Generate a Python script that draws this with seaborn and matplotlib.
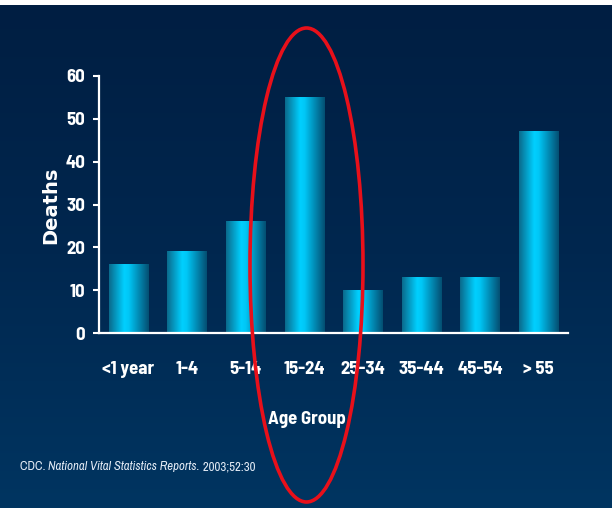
import numpy as np
import pandas as pd
import matplotlib
matplotlib.use('Agg')
import matplotlib.pyplot as plt
import seaborn as sns
from matplotlib.patches import Ellipse, Rectangle
from matplotlib.colors import LinearSegmentedColormap

# dados
age_groups = ['<1 year', '1-4', '5-14', '15-24', '25-34', '35-44', '45-54', '> 55']
deaths = [16, 19, 26, 55, 10, 13, 13, 47]
y_ticks = [0, 10, 20, 30, 40, 50, 60]
citation = ['CDC. ', 'National Vital Statistics Reports.', ' 2003;52:30']

df = pd.DataFrame({'grupo': age_groups, 'mortes': deaths})

sns.set_style('white')
narrow_bold = ['Barlow Semi Condensed', 'Liberation Sans', 'DejaVu Sans']
narrow = ['Archivo Narrow', 'Liberation Sans', 'DejaVu Sans']

fig = plt.figure(figsize=(6.12, 5.08), dpi=100)

# fundo em degradê azul escuro
bg = fig.add_axes([0, 0, 1, 1], zorder=-10)
bg_cmap = LinearSegmentedColormap.from_list('bg', ['#001e42', '#00274f', '#003561'])
bg.imshow(np.linspace(0, 1, 256).reshape(-1, 1), cmap=bg_cmap, aspect='auto',
          extent=[0, 1, 0, 1], origin='upper')
bg.set_xlim(0, 1)
bg.set_ylim(0, 1)
bg.axis('off')
fig.patches.append(Rectangle((0, 1 - 5 / 508), 1, 5 / 508, transform=fig.transFigure,
                             facecolor='white', edgecolor='none', zorder=5))

ax = fig.add_axes([99 / 612, 1 - 333 / 508, (568 - 99) / 612, (333 - 76) / 508])
ax.patch.set_alpha(0)

sns.barplot(data=df, x='grupo', y='mortes', color='#00ccff', width=0.67, ax=ax)

# degradê horizontal nas barras
bar_cmap = LinearSegmentedColormap.from_list(
    'bar', [(0, '#0a6a8c'), (0.38, '#00d0ff'), (0.5, '#00c6f5'), (1, '#044f72')])
grad = np.linspace(0, 1, 128).reshape(1, -1)
for p in ax.patches:
    x0, y0 = p.get_x(), p.get_y()
    w, h = p.get_width(), p.get_height()
    ax.imshow(grad, cmap=bar_cmap, aspect='auto', extent=[x0, x0 + w, y0, y0 + h],
              zorder=2)
    p.set_visible(False)

ax.set_xlim(-0.5, 7.5)
ax.set_ylim(0, 60)
ax.set_yticks(y_ticks)
ax.set_yticklabels([str(v) for v in y_ticks], fontsize=13.5, fontweight='bold',
                   color='white', family=narrow_bold)
ax.set_xticks(range(len(age_groups)))
ax.set_xticklabels(age_groups, fontsize=13.5, fontweight='bold', color='white',
                   family=narrow_bold)
ax.set_xticks(np.arange(-0.5, 8, 1), minor=True)
ax.tick_params(axis='x', which='major', length=0, pad=20)
ax.tick_params(axis='x', which='minor', length=5, width=1.3, color='#c8d8ec',
               direction='out')
ax.tick_params(axis='y', length=4, width=1.5, color='white', direction='out', pad=6,
               left=True)

for s in ['top', 'right']:
    ax.spines[s].set_visible(False)
for s in ['left', 'bottom']:
    ax.spines[s].set_color('white')
    ax.spines[s].set_linewidth(1.6)

ax.set_xlabel('')
ax.set_ylabel('')
fig.text(51 / 612, 1 - 205 / 508, 'Deaths', rotation=90, ha='center', va='center',
         fontsize=14, fontweight='bold', color='white', family='DejaVu Sans')
fig.text(307 / 612, 1 - 420 / 508, 'Age Group', ha='center', va='center',
         fontsize=13.5, fontweight='bold', color='white', family=narrow_bold)

# citação com parte em itálico
renderer = fig.canvas.get_renderer()
x_px = 20
styles = ['normal', 'italic', 'normal']
for txt, st in zip(citation, styles):
    t = fig.text(x_px / 612, 1 - 467 / 508, txt, ha='left', va='center', fontsize=9.2,
                 style=st, color='#e4ecf6', family=narrow)
    bb = t.get_window_extent(renderer=renderer)
    x_px += bb.width

# elipse vermelha
fig.patches.append(Ellipse((306.5 / 612, 1 - 265 / 508), 113 / 612, 474 / 508,
                           transform=fig.transFigure, fill=False,
                           edgecolor='#e8101a', linewidth=2.6, zorder=10))

fig.savefig('out.png', dpi=100)
